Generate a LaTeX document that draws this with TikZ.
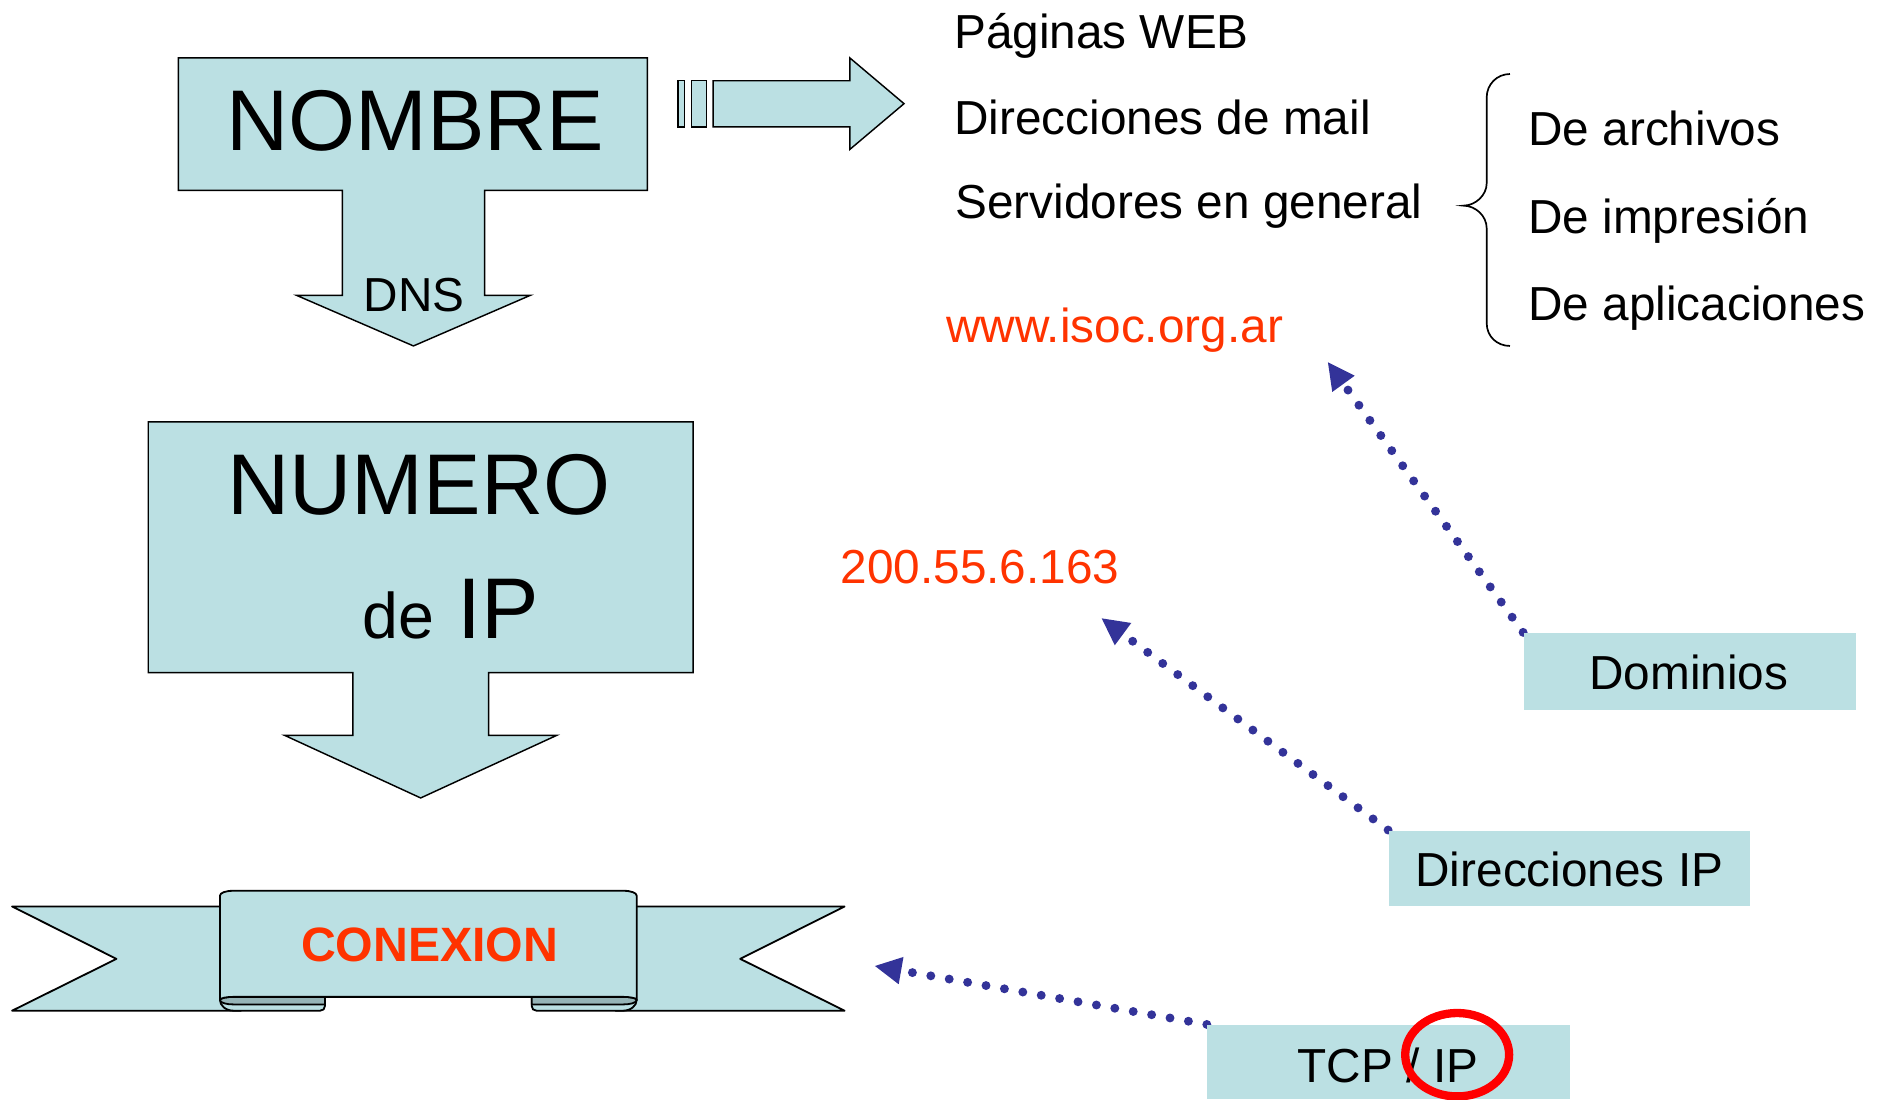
\documentclass[tikz,border=0pt]{standalone}
\usepackage{fontspec}
\setmainfont{Liberation Sans}
\usetikzlibrary{arrows.meta,fit}
\definecolor{boxblue}{HTML}{BBE0E3}
\definecolor{rolldark}{HTML}{96B4B7}
\definecolor{arrblue}{HTML}{333399}
\definecolor{txtred}{HTML}{FF3300}
\pgfdeclarelayer{background}
\pgfsetlayers{background,main}
\begin{document}
\begin{tikzpicture}[x=0.5pt,y=-0.5pt,
 blk/.style={fill=boxblue, draw=black, line width=0.6pt, line join=miter},
 ban/.style={fill=boxblue, draw=black, line width=0.75pt, line join=round},
 bandark/.style={fill=rolldark, draw=black, line width=0.75pt, line join=round},
 lbox/.style={fill=boxblue, draw=none, inner sep=0pt},
 bigtxt/.style={font=\fontsize{35.75pt}{40pt}\selectfont, inner sep=0pt},
 medtxt/.style={font=\fontsize{19.8pt}{24pt}\selectfont, inner sep=0pt},
 detxt/.style={font=\fontsize{26.75pt}{30pt}\selectfont, inner sep=0pt},
 boldtxt/.style={font=\fontsize{20pt}{24pt}\selectfont\bfseries, inner sep=0pt, text=txtred},
 redtxt/.style={medtxt, text=txtred},
 dotarrow/.style={draw=arrblue, line width=3.7pt, line cap=round, dash pattern=on 0pt off 7.75pt,
   -{Triangle[length=11pt, width=11.5pt, line width=0pt]}}
]
\useasboundingbox (0,0) rectangle (1568,912);

% NOMBRE block arrow
\filldraw[blk] (148,48) -- (537,48) -- (537,158) -- (402,158) -- (402,245) -- (440,245)
  -- (343,287) -- (246,245) -- (284,245) -- (284,158) -- (148,158) -- cycle;
\node[bigtxt, anchor=base] (nombre) at (344.5,125.2) {NOMBRE};
\node[medtxt, anchor=base] (dns) at (343.5,258.6) {DNS};

% striped arrow
\filldraw[blk] (562.3,67) rectangle (567.9,105.2);
\filldraw[blk] (573.6,67) rectangle (586,105.2);
\filldraw[blk] (591.7,67) -- (705,67) -- (705,48) -- (750,86) -- (705,124) -- (705,105.2)
  -- (591.7,105.2) -- cycle;

% NUMERO block arrow
\filldraw[blk] (123,350) -- (575,350) -- (575,558) -- (405.3,558) -- (405.3,610) -- (462,610)
  -- (349,662) -- (236,610) -- (292.7,610) -- (292.7,558) -- (123,558) -- cycle;
\node[bigtxt, anchor=base] (numero) at (347.5,427) {NUMERO};
\node[detxt, anchor=base west] (de) at (300.7,529.5) {de};
\node[bigtxt, anchor=base west] (ip) at (379.1,529.5) {IP};

% banner: wings
\filldraw[ban] (10,752) -- (200,752) -- (200,838.5) -- (10,838.5) -- (96.6,795.5) -- cycle;
\filldraw[ban] (700.7,752) -- (510.7,752) -- (510.7,838.5) -- (700.7,838.5) -- (614.1,795.5) -- cycle;
% banner: left roll
\filldraw[ban] (182.5,829.6) .. controls (182.5,834) and (187,838.5) .. (194,838.5) -- (265.5,838.5)
  .. controls (268,838.5) and (269.6,837) .. (269.6,834.5) -- (269.6,827) -- (194,827)
  .. controls (188,827) and (182.5,828) .. (182.5,829.6) -- cycle;
\filldraw[bandark] (182.5,829.6) .. controls (182.5,832) and (188,833.3) .. (194,833.3) -- (269.6,833.3)
  -- (269.6,827) -- (194,827) .. controls (188,827) and (182.5,828) .. (182.5,829.6) -- cycle;
% banner: right roll
\filldraw[ban] (528.2,829.6) .. controls (528.2,834) and (523.7,838.5) .. (516.7,838.5) -- (445.2,838.5)
  .. controls (442.7,838.5) and (441.1,837) .. (441.1,834.5) -- (441.1,827) -- (516.7,827)
  .. controls (522.7,827) and (528.2,828) .. (528.2,829.6) -- cycle;
\filldraw[bandark] (528.2,829.6) .. controls (528.2,832) and (522.7,833.3) .. (516.7,833.3) -- (441.1,833.3)
  -- (441.1,827) -- (516.7,827) .. controls (522.7,827) and (528.2,828) .. (528.2,829.6) -- cycle;
% banner: front panel
\filldraw[ban] (182.5,829.6) -- (182.5,743) .. controls (182.5,740.8) and (187,739) .. (193.5,739)
  -- (517.2,739) .. controls (523.7,739) and (528.2,740.8) .. (528.2,743) -- (528.2,829.6)
  .. controls (528.2,828) and (522.7,827) .. (516.7,827) -- (194,827)
  .. controls (188,827) and (182.5,828) .. (182.5,829.6) -- cycle;
\node[boldtxt, anchor=base] (conexion) at (356.5,797.8) {CONEXION};

% right column texts
\node[medtxt, anchor=base west] (web) at (791.3,40.4) {Páginas WEB};
\node[medtxt, anchor=base west] (mail) at (791.3,111.5) {Direcciones de mail};
\node[medtxt, anchor=base west] (serv) at (792.3,181.2) {Servidores en general};
\node[medtxt, anchor=base west] (arch) at (1267.6,121) {De archivos};
\node[medtxt, anchor=base west] (impr) at (1267.6,193.6) {De impresión};
\node[medtxt, anchor=base west] (apli) at (1267.6,265.5) {De aplicaciones};
\node[redtxt, anchor=base west] (isoc) at (784.5,284.5) {www.isoc.org.ar};
\node[redtxt, anchor=base west] (ipnum) at (697.1,484.2) {200.55.6.163};

% brace
\draw[line width=0.7pt] (1252.7,61.4) .. controls (1241.9,61.4) and (1233.4,70) .. (1233.4,80.8)
  -- (1233.4,152) .. controls (1233.4,162) and (1224,170.6) .. (1214,170.6)
  .. controls (1224,170.6) and (1233.4,179) .. (1233.4,189.4) -- (1233.4,268.2)
  .. controls (1233.4,279) and (1241.9,287) .. (1252.7,287);

% label boxes
\node[lbox, fit={(1264,525) (1540,589)}] (dom) {};
\node[medtxt, anchor=base] (domt) at (1401,571.8) {Dominios};
\node[lbox, fit={(1152,689) (1452,752)}] (dirip) {};
\node[medtxt, anchor=base] (diript) at (1302,735.3) {Direcciones IP};
\node[lbox, fit={(1001.6,850.3) (1302.5,912)}] (tcp) {};
\node[medtxt, anchor=base] (tcpt) at (1151.5,897.8) {TCP / IP};
\draw[red, line width=3.45pt] (1208.9,875) ellipse [x radius=43.1, y radius=34.6];

% dotted arrows
\coordinate (t1) at (1101.7,300.6);
\coordinate (t2) at (914,513);
\coordinate (t3) at (725.9,801.4);
\begin{pgfonlayer}{background}
\draw[dotarrow] (dom.north west) -- (t1);
\draw[dotarrow] (dirip.north west) -- (t2);
\draw[dotarrow] (tcp.north west) -- (t3);
\end{pgfonlayer}
\end{tikzpicture}
\end{document}
